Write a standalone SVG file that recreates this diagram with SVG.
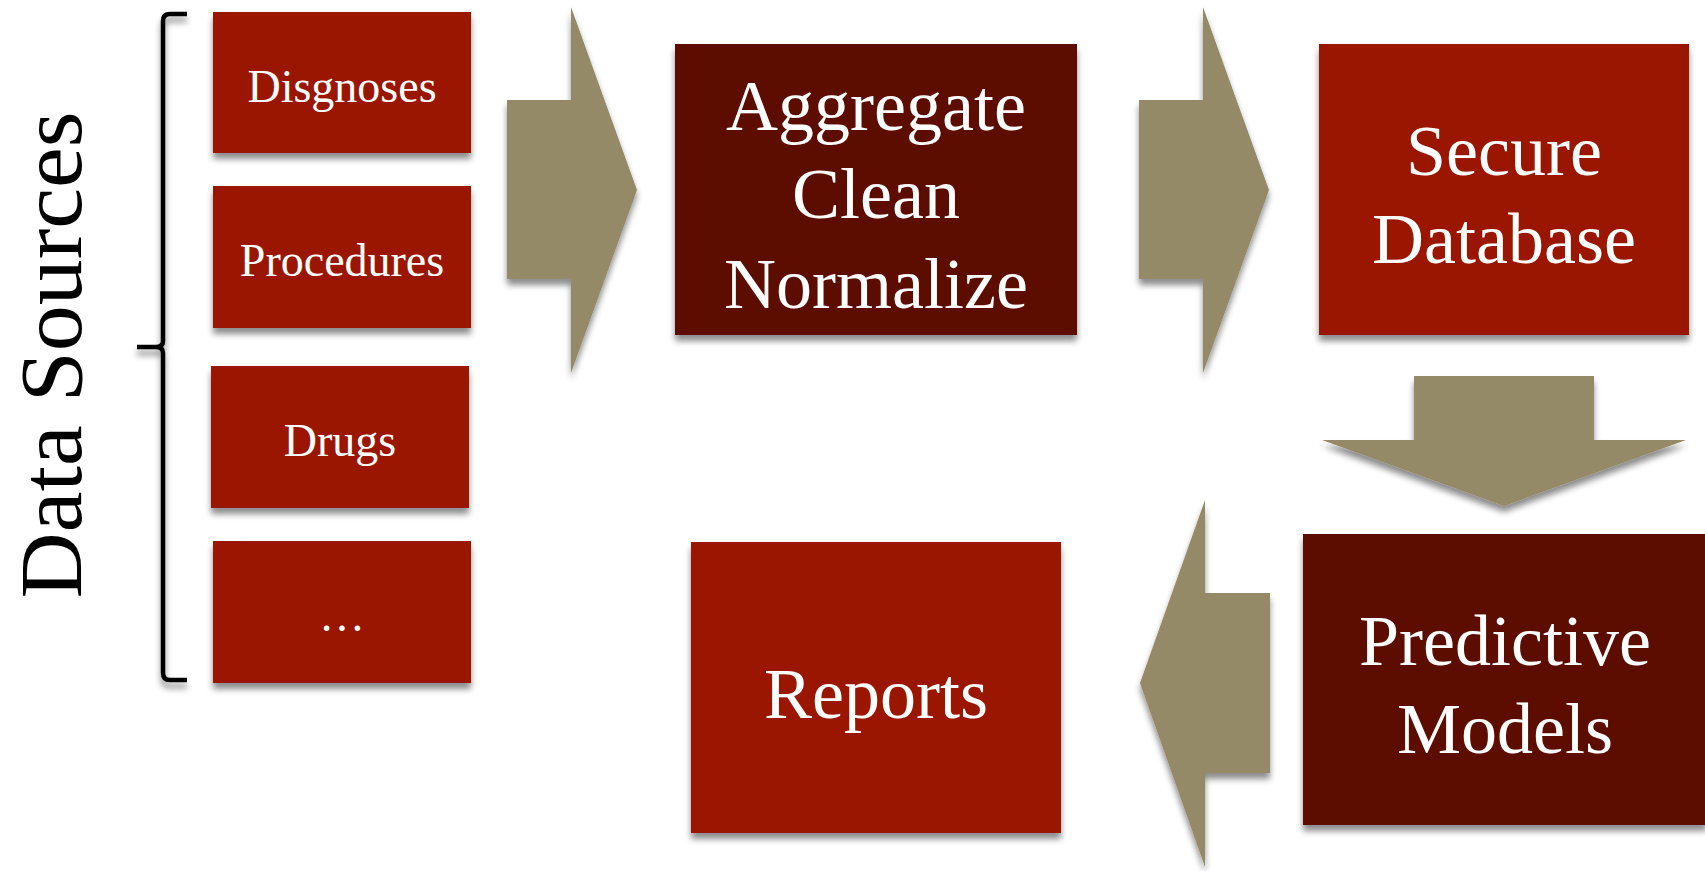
<svg xmlns="http://www.w3.org/2000/svg" width="1705" height="871" viewBox="0 0 1705 871">
  <style>
    .red { fill: #9a1703; }
    .dark { fill: #5b0a02; }
    .arrow { fill: #958a68; }
    .lbl { font-family: "Liberation Serif", "DejaVu Serif", serif; fill: #ffffff; text-anchor: middle; }
    .sm { font-size: 46px; }
    .lg { font-size: 72px; }
    .title { font-family: "Liberation Serif", "DejaVu Serif", serif; font-size: 89px; fill: #000000; text-anchor: middle; }
  </style>
  <defs>
    <filter id="sh" x="-10%" y="-10%" width="120%" height="130%">
      <feDropShadow dx="0" dy="6" stdDeviation="3" flood-color="#000000" flood-opacity="0.45"/>
    </filter>
  </defs>
  <rect width="1705" height="871" fill="#ffffff"/>

  <g id="data-sources-label">
    <text class="title" transform="translate(81,355) rotate(-90)" textLength="487" lengthAdjust="spacingAndGlyphs">Data Sources</text>
  </g>

  <g id="brace" filter="url(#sh)">
    <path d="M187,14 L170,14 Q163,14 163,21 L163,341 Q163,347 156,347 L137,347 M156,347 Q163,347 163,353 L163,673 Q163,680 170,680 L187,680" fill="none" stroke="#000000" stroke-width="4.5"/>
  </g>

  <g id="connectors">
    <polygon class="arrow" filter="url(#sh)" points="507,100 571,100 571,7 637,190 571,373 571,279 507,279"/>
    <polygon class="arrow" filter="url(#sh)" points="1139,100 1203,100 1203,7 1269,190 1203,373 1203,279 1139,279"/>
    <polygon class="arrow" filter="url(#sh)" points="1414,376 1594,376 1594,440 1686,440 1504,506 1322,440 1414,440"/>
    <polygon class="arrow" filter="url(#sh)" points="1270,593 1205,593 1205,500 1140,683 1205,867 1205,773 1270,773"/>
  </g>

  <g id="node-disgnoses">
    <rect class="red" filter="url(#sh)" x="213" y="12" width="258" height="141"/>
    <text class="lbl sm" x="342" y="102">Disgnoses</text>
  </g>
  <g id="node-procedures">
    <rect class="red" filter="url(#sh)" x="213" y="186" width="258" height="142"/>
    <text class="lbl sm" x="342" y="276">Procedures</text>
  </g>
  <g id="node-drugs">
    <rect class="red" filter="url(#sh)" x="211" y="366" width="258" height="142"/>
    <text class="lbl sm" x="340" y="456">Drugs</text>
  </g>
  <g id="node-more">
    <rect class="red" filter="url(#sh)" x="213" y="541" width="258" height="142"/>
    <text class="lbl sm" x="342" y="631">…</text>
  </g>

  <g id="node-aggregate">
    <rect class="dark" filter="url(#sh)" x="675" y="44" width="402" height="291"/>
    <text class="lbl lg" x="876" y="130">Aggregate</text>
    <text class="lbl lg" x="876" y="218">Clean</text>
    <text class="lbl lg" x="876" y="308">Normalize</text>
  </g>

  <g id="node-secure-database">
    <rect class="red" filter="url(#sh)" x="1319" y="44" width="370" height="291"/>
    <text class="lbl lg" x="1504" y="175">Secure</text>
    <text class="lbl lg" x="1504" y="263">Database</text>
  </g>

  <g id="node-predictive-models">
    <rect class="dark" filter="url(#sh)" x="1303" y="534" width="404" height="291"/>
    <text class="lbl lg" x="1505" y="665">Predictive</text>
    <text class="lbl lg" x="1505" y="753">Models</text>
  </g>

  <g id="node-reports">
    <rect class="red" filter="url(#sh)" x="691" y="542" width="370" height="291"/>
    <text class="lbl lg" x="876" y="718">Reports</text>
  </g>
</svg>
